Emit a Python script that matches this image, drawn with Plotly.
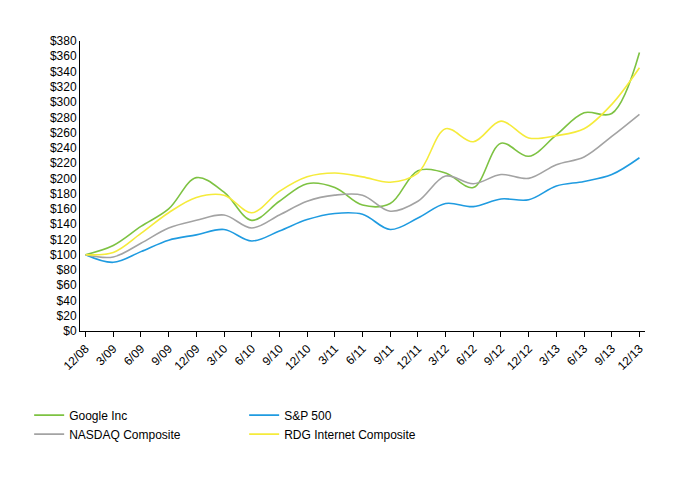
import plotly.graph_objects as go

quarters = ["12/08", "3/09", "6/09", "9/09", "12/09", "3/10", "6/10", "9/10", "12/10", "3/11", "6/11",
            "9/11", "12/11", "3/12", "6/12", "9/12", "12/12", "3/13", "6/13", "9/13", "12/13"]
google = [100, 112, 137, 160, 201, 182, 145, 170, 193, 188, 165, 167, 210, 207, 188, 246, 229, 257, 286, 285, 365]
sp500 = [100, 90, 104, 119, 126, 133, 118, 131, 146, 154, 153, 133, 148, 167, 163, 173, 172, 190, 196, 205, 227]
nasdaq = [100, 97, 115, 135, 145, 152, 135, 152, 170, 178, 178, 157, 170, 203, 193, 205, 200, 218, 228, 255, 284]
rdg = [100, 103, 128, 155, 175, 178, 155, 183, 202, 207, 202, 195, 207, 265, 248, 275, 253, 256, 265, 297, 345]
y_ticks = list(range(0, 381, 20))

series = [("Google Inc", google, "#7dc242"), ("S&P 500", sp500, "#1f9be0"),
          ("NASDAQ Composite", nasdaq, "#a3a3a3"), ("RDG Internet Composite", rdg, "#f5eb3b")]

fig = go.Figure()
for name, vals, color in series:
    fig.add_trace(go.Scatter(x=quarters, y=vals, name=name, mode="lines",
                             line=dict(color=color, width=1.6, shape="spline")))

fig.update_layout(
    width=682, height=480,
    plot_bgcolor="white", paper_bgcolor="white",
    font=dict(family="Liberation Sans, Arial, sans-serif", size=12, color="#000"),
    margin=dict(l=72, r=45, t=33, b=157),
    showlegend=True,
    legend=dict(orientation="h", x=-0.09, xanchor="left", y=-0.24, yanchor="top",
                entrywidth=170, font=dict(size=12), tracegroupgap=0),
)
fig.update_xaxes(showline=True, linecolor="black", ticks="outside", tickcolor="black", ticklen=5,
                 tickangle=-45, showgrid=False, range=[-0.2, 20.2])
fig.update_yaxes(showline=True, linecolor="black", showgrid=False, range=[0, 380],
                 tickvals=y_ticks, ticktext=[f"${v}" for v in y_ticks], zeroline=False)

fig.write_html("out.html")
